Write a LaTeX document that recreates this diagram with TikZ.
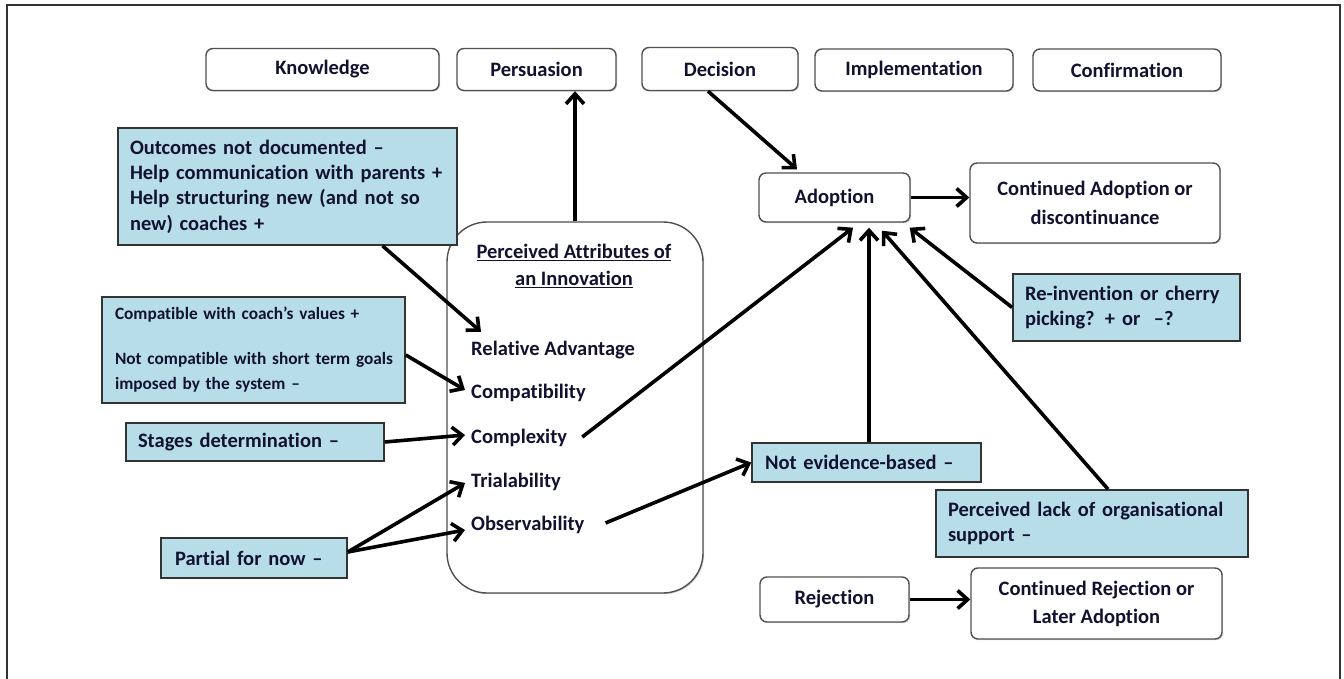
\documentclass[tikz,border=0pt]{standalone}
\usepackage{fontspec}
\setmainfont{Carlito}[Ligatures={TeX,NoCommon}]
\usetikzlibrary{arrows.meta,calc,shadows}
\definecolor{notefill}{HTML}{B7DEE8}
\definecolor{ink}{HTML}{121230}
\definecolor{boxline}{HTML}{505050}
\begin{document}
\begin{tikzpicture}[x=1pt,y=-1pt,
  stage/.style={draw=boxline, line width=1.4pt, rounded corners=7pt, fill=white, text=ink,
    font=\bfseries\fontsize{20.5}{25}\selectfont, align=center, inner sep=0pt,
    drop shadow={shadow xshift=1.2pt,shadow yshift=-1.2pt,opacity=0.35}},
  note/.style={draw=black!80, line width=1.6pt, fill=notefill, text=ink,
    font=\bfseries\fontsize{20.5}{25.3}\selectfont, align=left, inner ysep=0pt},
  item/.style={text=ink, font=\bfseries\fontsize{20.5}{25}\selectfont, anchor=west,
    inner sep=0pt, text height=14pt, text depth=4pt},
  arr/.style={draw=black, line width=3.6pt, -{Straight Barb[length=10pt,width=18pt]}},
]
\useasboundingbox (0,0) rectangle (1344,679);
\draw[line width=1.2pt, black!80] (7,679) -- (7,5) -- (1340,5) -- (1340,679);

% stage boxes
\node[stage, minimum width=233pt, minimum height=42pt] (know) at (322.5,69.5) {Knowledge};
\node[stage, minimum width=159pt, minimum height=42pt] (pers) at (536.5,69.5) {Persuasion};
\node[stage, minimum width=156pt, minimum height=43pt] (dec)  at (720,69) {Decision};
\node[stage, minimum width=198pt, minimum height=42pt] (impl) at (914,70) {Implementation};
\node[stage, minimum width=188pt, minimum height=42pt] (conf) at (1127,70) {Confirmation};

% outcome boxes
\node[stage, minimum width=151pt, minimum height=49pt] (adopt) at (834.5,197.5) {Adoption};
\node[stage, minimum width=250pt, minimum height=80pt] (cont) at (1095,203) {Continued Adoption or\\[4pt]discontinuance};
\node[stage, minimum width=149pt, minimum height=45pt] (rej) at (834.5,599.5) {Rejection};
\node[stage, minimum width=251pt, minimum height=71pt] (crej) at (1096.5,603.5) {Continued Rejection or\\[3pt]Later Adoption};

% central attributes box
\node[draw=boxline, line width=1.4pt, rounded corners=40pt, fill=white,
  minimum width=256pt, minimum height=371pt,
  drop shadow={shadow xshift=1.2pt,shadow yshift=-1.2pt,opacity=0.35}] (attr) at (575,407.5) {};
\node[text=ink, font=\bfseries\fontsize{20.5}{27}\selectfont, align=center, inner sep=0pt] (ttl) at (574,266)
  {\underline{Perceived Attributes of}\\\underline{an Innovation}};
\node[item] (ra) at (471,350) {Relative Advantage};
\node[item] (compat) at (471,393) {Compatibility};
\node[item] (cx) at (471,438) {Complexity};
\node[item] (tr) at (471,482) {Trialability};
\node[item] (obs) at (471,525) {Observability};

% blue notes
\node[note, text width=315pt, inner xsep=12pt, minimum height=117pt] (b1) at (287.5,186.5)
  {Outcomes not documented –\\Help communication with parents +\\Help structuring new (and not so\\new) coaches +};
\node[note, text width=291pt, inner xsep=6pt, minimum height=106pt,
  font=\bfseries\fontsize{17.3}{25}\selectfont] (b2) at (253.5,350)
  {\hspace*{7pt}Compatible with coach’s values +\\[20pt]\hspace*{7pt}Not compatible with short term goals\\\hspace*{7pt}imposed by the system –};
\node[note, text width=234pt, inner xsep=12pt, minimum height=38pt] (b3) at (255,442) {Stages determination –};
\node[note, text width=158pt, inner xsep=14pt, minimum height=40pt] (b4) at (254,558) {Partial for now –};
\node[note, text width=203pt, inner xsep=13pt, minimum height=39pt] (nev) at (866.5,462.5) {Not evidence-based –};
\node[note, text width=203pt, inner xsep=12pt, minimum height=67pt] (reinv) at (1126.5,307.5)
  {Re-invention or cherry\\picking? + or~ –?};
\node[note, text width=288pt, inner xsep=12pt, minimum height=67pt] (lack) at (1092,523.5)
  {Perceived lack of organisational\\support –};

% connectors
\draw[arr] (attr.north) -- (attr.north |- pers.south);
\draw[arr] ([xshift=-12pt]dec.south) -- ([xshift=-37.5pt,yshift=3pt]adopt.north);
\draw[arr] (adopt.east) -- (adopt.east -| cont.west);
\draw[arr] (rej.east) -- (rej.east -| crej.west);
\draw[arr] ([xshift=95pt]b1.south) -- ([xshift=10pt,yshift=9pt]ra.north west);
\draw[arr] ([yshift=-5pt]b2.east) -- ([xshift=-6pt,yshift=3pt]compat.west);
\draw[arr] (b3.east) -- ([xshift=-6pt,yshift=3pt]cx.west);
\draw[arr] ([yshift=6pt]b4.east) -- ([xshift=-6pt,yshift=-1pt]tr.west);
\draw[arr] ([yshift=6pt]b4.east) -- ([xshift=-6pt,yshift=-5pt]obs.west);
\draw[arr] ([xshift=15pt,yshift=1pt]cx.east) -- ([xshift=18.5pt,yshift=-5pt]adopt.south);
\draw[arr] ([xshift=21pt,yshift=2pt]obs.east) -- (nev.west);
\draw[arr] ([xshift=2.5pt]nev.north) -- ([xshift=34.5pt,yshift=-5pt]adopt.south);
\draw[arr] ([xshift=16pt]lack.north) -- ([xshift=47.5pt,yshift=-8pt]adopt.south);
\draw[arr] (reinv.west) -- ([xshift=-1pt,yshift=-5pt]adopt.south east);
\end{tikzpicture}
\end{document}
